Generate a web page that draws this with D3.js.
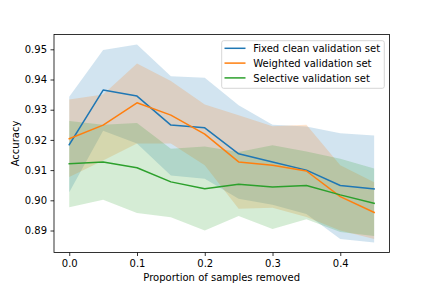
<!DOCTYPE html>
<html>
<head>
<meta charset="utf-8">
<script src="https://cdn.jsdelivr.net/npm/d3@7"></script>
<style>
  body { margin: 0; background: #fff; }
  svg { display: block; font-family: "DejaVu Sans", sans-serif; }
</style>
</head>
<body>
<svg id="chart" width="432" height="288"></svg>
<script>
var xValues = [0, 0.05, 0.1, 0.15, 0.2, 0.25, 0.3, 0.35, 0.4, 0.45];

var fixedMean = [0.9184, 0.9365, 0.9345, 0.9249, 0.9240, 0.9154, 0.9127, 0.9100, 0.9049, 0.9038];
var fixedUpper = [0.9343, 0.9498, 0.9516, 0.9411, 0.9406, 0.9315, 0.9250, 0.9244, 0.9222, 0.9215];
var fixedLower = [0.9027, 0.9230, 0.9188, 0.9082, 0.9071, 0.9005, 0.8985, 0.8955, 0.8872, 0.8860];

var weightedMean = [0.9204, 0.9249, 0.9323, 0.9282, 0.9219, 0.9127, 0.9116, 0.9097, 0.9012, 0.8960];
var weightedUpper = [0.9334, 0.9350, 0.9453, 0.9395, 0.9317, 0.9282, 0.9245, 0.9250, 0.9116, 0.9060];
var weightedLower = [0.9077, 0.9132, 0.9188, 0.9188, 0.9116, 0.8972, 0.8975, 0.8945, 0.8900, 0.8872];

var selectiveMean = [0.9121, 0.9127, 0.9108, 0.9061, 0.9038, 0.9053, 0.9044, 0.9049, 0.9018, 0.8990];
var selectiveUpper = [0.9263, 0.9250, 0.9256, 0.9171, 0.9178, 0.9160, 0.9182, 0.9162, 0.9138, 0.9105];
var selectiveLower = [0.8977, 0.9002, 0.8958, 0.8944, 0.8900, 0.8948, 0.8905, 0.8937, 0.8895, 0.8882];

var seriesNames = ["Fixed clean validation set", "Weighted validation set", "Selective validation set"];
var colors = ["#1f77b4", "#ff7f0e", "#2ca02c"];
var xTicks = [0, 0.1, 0.2, 0.3, 0.4];
var yTicks = [0.89, 0.90, 0.91, 0.92, 0.93, 0.94, 0.95];

var series = [
  { name: seriesNames[0], mean: fixedMean, upper: fixedUpper, lower: fixedLower, color: colors[0] },
  { name: seriesNames[1], mean: weightedMean, upper: weightedUpper, lower: weightedLower, color: colors[1] },
  { name: seriesNames[2], mean: selectiveMean, upper: selectiveUpper, lower: selectiveLower, color: colors[2] }
];

var plot = { left: 54, right: 389.4, top: 34.56, bottom: 252.5 };

var svg = d3.select("#chart");

// matplotlib style autoscale: 5% margin on each side
var xMin = d3.min(xValues), xMax = d3.max(xValues);
var xPad = (xMax - xMin) * 0.05;
var allY = [].concat(fixedUpper, fixedLower, weightedUpper, weightedLower, selectiveUpper, selectiveLower);
var yMin = d3.min(allY), yMax = d3.max(allY);
var yPad = (yMax - yMin) * 0.05;

var x = d3.scaleLinear().domain([xMin - xPad, xMax + xPad]).range([plot.left, plot.right]);
var y = d3.scaleLinear().domain([yMin - yPad, yMax + yPad]).range([plot.bottom, plot.top]);

var area = d3.area()
  .x(function (d) { return x(d.x); })
  .y0(function (d) { return y(d.lo); })
  .y1(function (d) { return y(d.hi); });

var line = d3.line()
  .x(function (d) { return x(d.x); })
  .y(function (d) { return y(d.v); });

var plotArea = svg.append("g");

series.forEach(function (s) {
  var pts = xValues.map(function (xv, i) {
    return { x: xv, lo: s.lower[i], hi: s.upper[i] };
  });
  plotArea.append("path")
    .datum(pts)
    .attr("d", area)
    .attr("fill", s.color)
    .attr("fill-opacity", 0.2)
    .attr("stroke", "none");
});

series.forEach(function (s) {
  var pts = xValues.map(function (xv, i) {
    return { x: xv, v: s.mean[i] };
  });
  plotArea.append("path")
    .datum(pts)
    .attr("d", line)
    .attr("fill", "none")
    .attr("stroke", s.color)
    .attr("stroke-width", 1.5)
    .attr("stroke-linejoin", "round")
    .attr("stroke-linecap", "square");
});

// axes
var xAxis = d3.axisBottom(x)
  .tickValues(xTicks)
  .tickSize(3.5)
  .tickPadding(3.5)
  .tickFormat(d3.format(".1f"));
var yAxis = d3.axisLeft(y)
  .tickValues(yTicks)
  .tickSize(3.5)
  .tickPadding(3.5)
  .tickFormat(d3.format(".2f"));

var gx = svg.append("g")
  .attr("transform", "translate(0," + plot.bottom + ")")
  .call(xAxis);
var gy = svg.append("g")
  .attr("transform", "translate(" + plot.left + ",0)")
  .call(yAxis);

[gx, gy].forEach(function (g) {
  g.select(".domain").remove();
  g.selectAll(".tick line").attr("stroke", "#000").attr("stroke-width", 0.8);
  g.selectAll(".tick text")
    .attr("fill", "#000")
    .style("font-size", "10px")
    .style("font-family", "DejaVu Sans, sans-serif");
});

// spines
svg.append("rect")
  .attr("x", plot.left)
  .attr("y", plot.top)
  .attr("width", plot.right - plot.left)
  .attr("height", plot.bottom - plot.top)
  .attr("fill", "none")
  .attr("stroke", "#000")
  .attr("stroke-width", 0.8);

// axis labels
svg.append("text")
  .attr("x", (plot.left + plot.right) / 2)
  .attr("y", 280.5)
  .attr("text-anchor", "middle")
  .style("font-size", "10px")
  .text("Proportion of samples removed");

svg.append("text")
  .attr("transform", "translate(18.5," + (plot.top + plot.bottom) / 2 + ") rotate(-90)")
  .attr("text-anchor", "middle")
  .style("font-size", "10px")
  .text("Accuracy");

// legend
var legend = svg.append("g");
legend.append("rect")
  .attr("x", 221.7)
  .attr("y", 40.7)
  .attr("width", 162.6)
  .attr("height", 47.6)
  .attr("rx", 2)
  .attr("fill", "#fff")
  .attr("fill-opacity", 0.8)
  .attr("stroke", "#cccccc")
  .attr("stroke-width", 0.8);

series.forEach(function (s, i) {
  var rowY = 48.3 + i * 14.8;
  legend.append("line")
    .attr("x1", 224.5)
    .attr("x2", 245.5)
    .attr("y1", rowY)
    .attr("y2", rowY)
    .attr("stroke", s.color)
    .attr("stroke-width", 1.5);
  legend.append("text")
    .attr("x", 253.3)
    .attr("y", rowY + 3.7)
    .style("font-size", "10px")
    .text(s.name);
});
</script>
</body>
</html>
